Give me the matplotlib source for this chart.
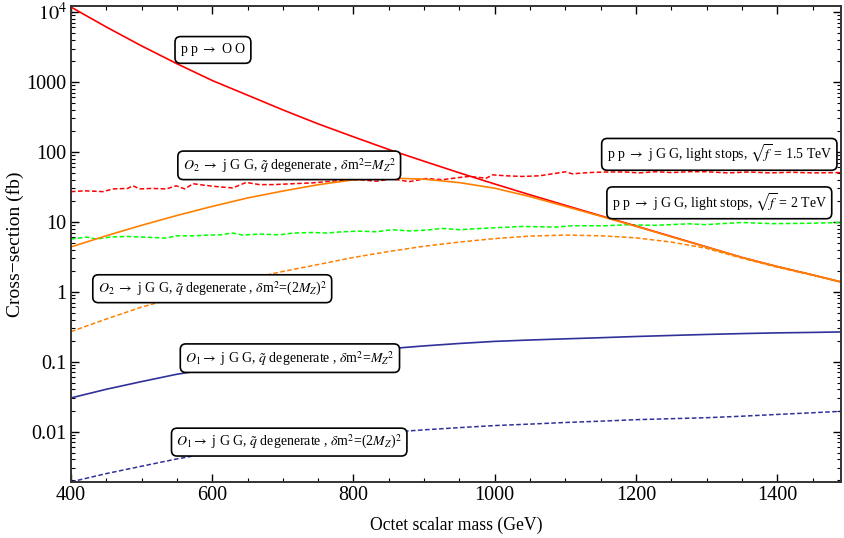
"""Octet scalar pair / monojet-like cross-sections vs octet mass (log scale)."""
import matplotlib
matplotlib.use("Agg")
import matplotlib.pyplot as plt
import numpy as np
from matplotlib.ticker import FixedLocator, FuncFormatter, LogLocator, MultipleLocator, NullFormatter

plt.rcParams["font.family"] = ["Liberation Serif", "STIXGeneral", "DejaVu Serif"]
plt.rcParams["mathtext.fontset"] = "stix"

# --- data (mass in GeV, sigma in fb) ---
mass = [400, 450, 500, 550, 600, 650, 700, 750, 800, 850, 900, 950, 1000,
        1050, 1100, 1150, 1200, 1250, 1300, 1350, 1400, 1450, 1490]
pp_OO = [11750, 6100, 3270, 1820, 1047, 646, 398, 251, 164, 108, 73.3, 50.1, 34.7,
         24.3, 17.2, 12.2, 8.71, 6.17, 4.37, 3.09, 2.29, 1.74, 1.38]
o2_mz = [4.37, 6.31, 8.91, 12.3, 16.6, 21.9, 27.5, 33.9, 39.8, 42.2, 40.7, 36.3, 30.2,
         22.9, 16.6, 12.0, 8.61, 6.1, 4.35, 3.09, 2.29, 1.74, 1.38]
o2_2mz = [0.269, 0.407, 0.603, 0.832, 1.15, 1.51, 1.95, 2.45, 3.09, 3.76, 4.47, 5.13, 5.75,
          6.24, 6.46, 6.31, 5.89, 5.13, 4.17, 3.02, 2.24, 1.72, 1.38]
o1_mz = [0.0303, 0.0403, 0.0519, 0.0661, 0.0794, 0.0933, 0.107, 0.122, 0.136, 0.153, 0.168,
         0.182, 0.195, 0.204, 0.212, 0.220, 0.229, 0.237, 0.245, 0.252, 0.258, 0.262, 0.266]
o1_2mz = [0.00191, 0.00251, 0.0032, 0.00407, 0.00501, 0.00603, 0.00708, 0.00813, 0.00902,
          0.00977, 0.0106, 0.0114, 0.0122, 0.0128, 0.0135, 0.0141, 0.0148, 0.0153, 0.0158,
          0.0166, 0.0176, 0.0186, 0.0195]

mass_s15 = [400, 420, 445, 460, 480, 488, 497, 515, 535, 549, 561, 573, 592, 611, 629, 648,
            667, 686, 714, 742, 761, 785, 808, 832, 855, 879, 903, 926, 950, 964, 988, 997,
            1016, 1039, 1063, 1082, 1100, 1110, 1133, 1157, 1185, 1204, 1228, 1251, 1275,
            1298, 1330, 1360, 1390, 1420, 1450, 1490]
stops15 = [27, 27.7, 27, 29.5, 30, 32.7, 29.5, 30, 29.5, 32.7, 29.5, 35, 33, 31.5, 30.5, 36.5,
           34, 34, 35, 36, 37.5, 39, 40, 38, 41, 37.5, 41.5, 40, 43, 44.5, 42, 46.9,
           45.4, 44.5, 45.4, 48.5, 51.8, 48.5, 50.5, 51.5, 51.5, 50, 52, 50.5, 52,
           52, 50, 51.5, 50, 51, 50, 50.5]

mass_s2 = [400, 422, 436, 455, 479, 502, 535, 549, 573, 596, 611, 629, 643, 667, 695, 714,
           742, 761, 785, 808, 832, 855, 879, 903, 926, 950, 968, 992, 1039, 1086, 1110,
           1157, 1185, 1228, 1275, 1298, 1350, 1393, 1440, 1490]
stops2 = [5.66, 6.04, 5.66, 6.04, 6.17, 6.04, 5.85, 6.3, 6.3, 6.46, 6.5, 6.9, 6.46, 6.67, 6.5, 6.9,
          7.03, 6.9, 7.2, 7.36, 7.2, 7.7, 7.4, 7.6, 8.04, 7.7, 7.9, 8.13, 8.57, 8.4, 8.77,
          8.77, 9.06, 8.9, 9.36, 9.1, 9.77, 9.4, 9.5, 9.77]

RED, ORANGE, GREEN, BLUE = "#ff0000", "#ff8000", "#00ff00", "#30309a"
DASH = (0, (3.0, 1.6))

fig = plt.figure(figsize=(8.45, 5.38), dpi=100)
ax = fig.add_axes([0.084, 0.104, 0.911, 0.885])

ax.plot(mass_s15, stops15, color=RED, lw=1.1, ls=DASH)
ax.plot(mass_s2, stops2, color=GREEN, lw=1.1, ls=DASH)
ax.plot(mass, pp_OO, color=RED, lw=1.2)
ax.plot(mass, o2_2mz, color=ORANGE, lw=1.1, ls=DASH)
ax.plot(mass, o2_mz, color=ORANGE, lw=1.2)
ax.plot(mass, o1_mz, color=BLUE, lw=1.2)
ax.plot(mass, o1_2mz, color=BLUE, lw=1.1, ls=DASH)

ax.set_yscale("log")
ax.set_xlim(400, 1490)
ax.set_ylim(0.0019, 1.22e4)

ax.xaxis.set_major_locator(MultipleLocator(200))
ax.xaxis.set_minor_locator(MultipleLocator(50))
ax.yaxis.set_major_locator(FixedLocator([0.01, 0.1, 1, 10, 100, 1000, 1e4]))
ax.yaxis.set_minor_locator(LogLocator(base=10, subs=np.arange(2, 10)))
ax.yaxis.set_minor_formatter(NullFormatter())
ylabels = {0.01: "0.01", 0.1: "0.1", 1: "1", 10: "10", 100: "100", 1000: "1000", 1e4: r"$10^4$"}
ax.yaxis.set_major_formatter(FuncFormatter(lambda v, p: ylabels.get(round(v, 4), "")))

ax.tick_params(which="both", direction="in", top=True, right=True, labelsize=14.5, pad=3)
ax.tick_params(which="major", length=6, width=1.0)
ax.tick_params(which="minor", length=3, width=0.8)
for s in ax.spines.values():
    s.set_linewidth(1.4)
    s.set_color("#333333")

ax.set_xlabel("Octet scalar mass (GeV)", fontsize=12.7, labelpad=8)
ax.set_ylabel("Cross\u2212section (fb)", fontsize=14, labelpad=2)

box = dict(boxstyle="round,pad=0.35,rounding_size=0.4", fc="white", ec="black", lw=1.2)
labels = [
    (601, 10 ** 3.457, r"p p $\rightarrow$ O O"),
    (709, 10 ** 1.807, r"$O_2$ $\rightarrow$ j G G, $\tilde{q}$ degenerate , $\delta$m$^2$=$M_Z{}^2$"),
    (1318, 10 ** 1.964, r"p p $\rightarrow$ j G G, light stops, $\sqrt{f}$ = 1.5 TeV"),
    (1318, 10 ** 1.271, r"p p $\rightarrow$ j G G, light stops, $\sqrt{f}$ = 2 TeV"),
    (600, 10 ** 0.043, r"$O_2$ $\rightarrow$ j G G, $\tilde{q}$ degenerate , $\delta$m$^2$=(2$M_Z$)$^2$"),
    (710, 10 ** -0.95, r"$O_1$$\rightarrow$ j G G, $\tilde{q}$ degenerate , $\delta$m$^2$=$M_Z{}^2$"),
    (709, 10 ** -2.15, r"$O_1$$\rightarrow$ j G G, $\tilde{q}$ degenerate , $\delta$m$^2$=(2$M_Z$)$^2$"),
]
for x, y, t in labels:
    ax.text(x, y, t, fontsize=10, ha="center", va="center", bbox=box, zorder=5)

fig.savefig("out.png", dpi=100)
